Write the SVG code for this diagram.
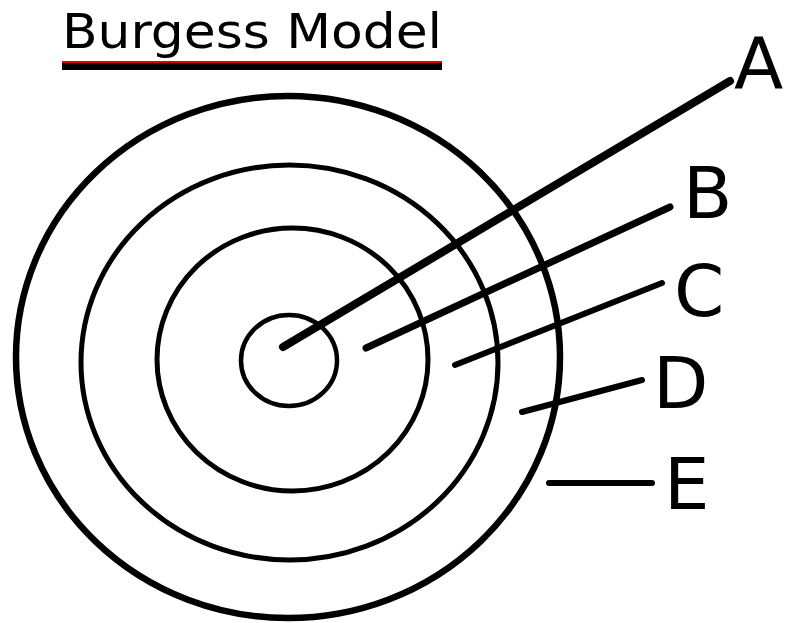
<svg xmlns="http://www.w3.org/2000/svg" width="785" height="623" viewBox="0 0 785 623">
<style>
.ring{fill:none;stroke:#000}
.lead{stroke:#000;stroke-linecap:round;fill:none}
.lbl{font-family:"DejaVu Sans","Liberation Sans",sans-serif;font-size:72px;fill:#000}
.title{font-family:"DejaVu Sans","Liberation Sans",sans-serif;font-size:48px;fill:#000}
</style>
<rect width="785" height="623" fill="#fff"/>
<g id="title">
<text class="title" x="62" y="48" textLength="380" lengthAdjust="spacingAndGlyphs">Burgess Model</text>
<rect x="62" y="61" width="380" height="2" fill="#e00000"/>
<rect x="62" y="63" width="380" height="7" fill="#000"/>
</g>
<g id="zone-E"><ellipse class="ring" cx="288" cy="357" rx="272" ry="261" stroke-width="6.5"/></g>
<g id="zone-D"><ellipse class="ring" cx="289.5" cy="362.5" rx="208.5" ry="197.5" stroke-width="5"/></g>
<g id="zone-C"><ellipse class="ring" cx="292.5" cy="359.5" rx="135.5" ry="131.5" stroke-width="5"/></g>
<g id="zone-B"><ellipse class="ring" cx="289" cy="360.5" rx="48" ry="45.5" stroke-width="4.5"/></g>
<g id="connectors">
<line class="lead" x1="283" y1="347" x2="730" y2="81" stroke-width="8"/>
<line class="lead" x1="366" y1="348" x2="670" y2="207" stroke-width="7"/>
<line class="lead" x1="455" y1="365" x2="662" y2="283" stroke-width="6"/>
<line class="lead" x1="522" y1="412" x2="642" y2="380" stroke-width="6"/>
<line class="lead" x1="549" y1="483" x2="652" y2="483" stroke-width="6"/>
</g>
<g id="labels">
<text class="lbl" x="734" y="88" font-size="70">A</text>
<text class="lbl" x="683" y="218">B</text>
<text class="lbl" x="674" y="316">C</text>
<text class="lbl" x="653" y="408">D</text>
<text class="lbl" x="664" y="509">E</text>
</g>
</svg>
